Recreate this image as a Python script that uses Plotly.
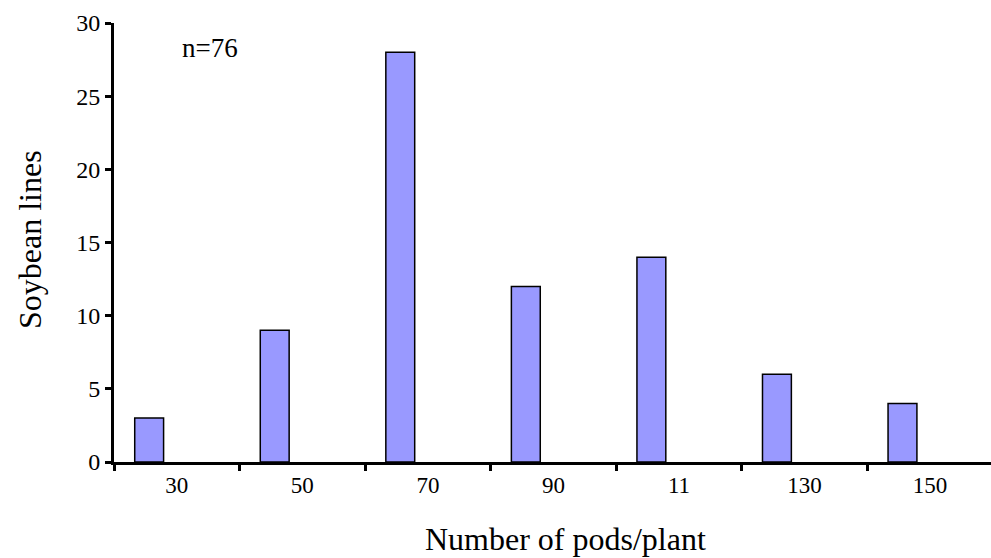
import plotly.graph_objects as go

categories = ["30", "50", "70", "90", "11", "130", "150"]
counts = [3, 9, 28, 12, 14, 6, 4]
y_ticks = [0, 5, 10, 15, 20, 25, 30]

pos = list(range(len(categories)))
bar_x = [p + 0.28 for p in pos]
label_x = [p + 0.5 for p in pos]

FONT = "Liberation Serif, Times New Roman, serif"

fig = go.Figure()
fig.add_trace(go.Bar(
    x=bar_x, y=counts, width=0.23,
    marker=dict(color="#9999FF", line=dict(color="black", width=1.5)),
    hoverinfo="skip",
))

fig.update_layout(
    width=991, height=558,
    margin=dict(l=114, r=0, t=23, b=96),
    plot_bgcolor="white", paper_bgcolor="white",
    showlegend=False,
    font=dict(family=FONT, color="black"),
    xaxis=dict(
        range=[0, 6.985],
        tickvals=label_x, ticktext=categories,
        ticks="", showgrid=False, zeroline=False,
        showline=True, linecolor="black", linewidth=3,
        tickfont=dict(size=23, family=FONT),
        minor=dict(tickvals=pos, ticks="outside", ticklen=6, tickwidth=3, tickcolor="black", showgrid=False),
    ),
    yaxis=dict(
        range=[0, 30],
        tickvals=y_ticks,
        ticks="outside", ticklen=6, tickwidth=3, tickcolor="black",
        showgrid=False, zeroline=False,
        showline=True, linecolor="black", linewidth=3,
        tickfont=dict(size=24, family=FONT),
    ),
    annotations=[
        dict(text="Number of pods/plant", x=565, y=539, showarrow=False,
             font=dict(size=32, family=FONT)),
        dict(text="Soybean lines", x=30, y=240, showarrow=False, textangle=-90,
             font=dict(size=32, family=FONT)),
        dict(text="n=76", x=210, y=48, showarrow=False, font=dict(size=27, family=FONT)),
    ],
)

# convert pixel annotation positions to paper coords
pw = 991 - 114 - 0
ph = 558 - 23 - 96
for a in fig.layout.annotations:
    px, py = a.x, a.y
    a.xref = "paper"; a.yref = "paper"
    a.x = (px - 114) / pw
    a.y = (558 - 96 - py) / ph
    a.xanchor = "center"; a.yanchor = "middle"

fig.write_html("out.html")
